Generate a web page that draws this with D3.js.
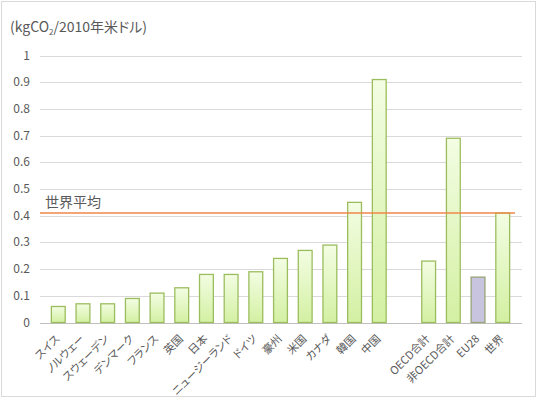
<!DOCTYPE html>
<html>
<head>
<meta charset="utf-8">
<script src="https://cdn.jsdelivr.net/npm/d3@7"></script>
<style>
  body { margin: 0; background: #fff; }
  svg { display: block; font-family: "Noto Sans CJK JP", "Noto Sans", sans-serif; font-feature-settings: "palt"; }
</style>
</head>
<body>
<svg id="chart"></svg>
<script>
const categories = ["スイス", "ノルウェー", "スウェーデン", "デンマーク", "フランス", "英国", "日本",
  "ニュージーランド", "ドイツ", "豪州", "米国", "カナダ", "韓国", "中国", "",
  "OECD合計", "非OECD合計", "EU28", "世界"];
const values = [0.06, 0.07, 0.07, 0.09, 0.11, 0.13, 0.18, 0.18, 0.19, 0.24, 0.27, 0.29, 0.45, 0.91, null,
  0.23, 0.69, 0.17, 0.41];
const highlighted = ["EU28"];
const worldAvg = 0.41;
const yTicks = [0, 0.1, 0.2, 0.3, 0.4, 0.5, 0.6, 0.7, 0.8, 0.9, 1];

const width = 538, height = 399;
const svg = d3.select("#chart").attr("width", width).attr("height", height);

// outer frame
svg.append("rect")
  .attr("x", 1.5).attr("y", 1.5)
  .attr("width", width - 4).attr("height", height - 4)
  .attr("fill", "none").attr("stroke", "#d9d9d9");

const defs = svg.append("defs");
const grad = defs.append("linearGradient")
  .attr("id", "barGrad").attr("x1", 0).attr("y1", 0).attr("x2", 0).attr("y2", 1);
grad.append("stop").attr("offset", "0%").attr("stop-color", "#f3fde3");
grad.append("stop").attr("offset", "100%").attr("stop-color", "#d3f0a2");

const x = d3.scaleBand().domain(d3.range(categories.length)).range([40.5, 520.5]).padding(0.44);
const y = d3.scaleLinear().domain([0, 1]).range([322.5, 55.5]);

// gridlines
svg.append("g")
  .selectAll("line")
  .data(yTicks)
  .join("line")
  .attr("x1", 40).attr("x2", 522)
  .attr("y1", d => Math.round(y(d)) + 0.5).attr("y2", d => Math.round(y(d)) + 0.5)
  .attr("stroke", d => d === 0 ? "#bfbfbf" : "#d9d9d9");

// y axis labels
svg.append("g")
  .selectAll("text")
  .data(yTicks)
  .join("text")
  .attr("x", 30)
  .attr("y", d => y(d) + 4)
  .attr("text-anchor", "end")
  .attr("font-size", 12)
  .attr("fill", "#595959")
  .text(d => d3.format("~g")(d));

// bars
svg.append("g")
  .selectAll("rect")
  .data(values.map((v, i) => ({ v, i })).filter(d => d.v !== null))
  .join("rect")
  .attr("x", d => x(d.i))
  .attr("y", d => y(d.v))
  .attr("width", x.bandwidth())
  .attr("height", d => y(0) - y(d.v))
  .attr("fill", d => highlighted.includes(categories[d.i]) ? "#c8c3de" : "url(#barGrad)")
  .attr("stroke", d => highlighted.includes(categories[d.i]) ? "#98a57a" : "#9cbd5e")
  .attr("stroke-width", 1.3);

// world average line
svg.append("line")
  .attr("x1", 40).attr("x2", 515)
  .attr("y1", y(worldAvg)).attr("y2", y(worldAvg))
  .attr("stroke", "#f0874a").attr("stroke-width", 1.6);

svg.append("text")
  .attr("x", 45).attr("y", y(worldAvg) - 6)
  .attr("font-size", 14)
  .attr("fill", "#595959")
  .text("世界平均");

// x labels
svg.append("g")
  .selectAll("text")
  .data(categories.map((c, i) => ({ c, i })).filter(d => d.c))
  .join("text")
  .attr("transform", d => `translate(${x(d.i) + x.bandwidth() / 2 + 2},${y(0) + 17}) rotate(-45)`)
  .attr("text-anchor", "end")
  .attr("font-size", 11)
  .attr("fill", "#595959")
  .text(d => d.c);

// unit title
const title = svg.append("text")
  .attr("x", 10).attr("y", 32)
  .attr("font-size", 14)
  .attr("fill", "#595959");
title.append("tspan").text("(kgCO");
title.append("tspan").attr("font-size", 8).attr("dy", 3).text("2");
title.append("tspan").attr("dy", -3).text("/2010年米ドル)");
</script>
</body>
</html>
